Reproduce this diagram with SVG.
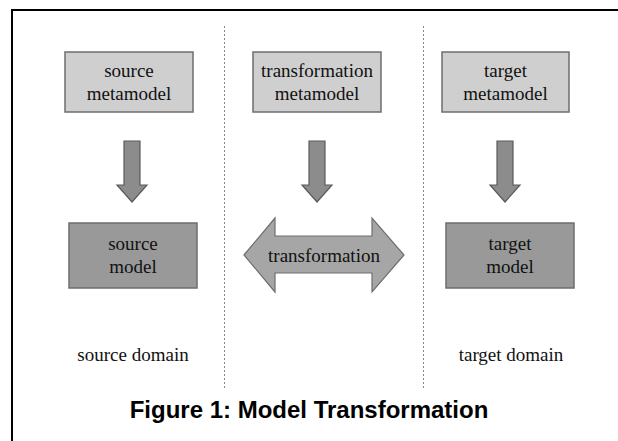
<svg xmlns="http://www.w3.org/2000/svg" width="618" height="441" viewBox="0 0 618 441">
<style>
.box1{fill:#cfcfcf;stroke:#6e6e6e;stroke-width:1.5}
.box2{fill:#999999;stroke:#6e6e6e;stroke-width:1.5}
.arr{fill:#8c8c8c;stroke:#5a5a5a;stroke-width:1.2}
.dbl{fill:#a6a6a6;stroke:#6e6e6e;stroke-width:1.2}
.t{font-size:19px;fill:#111;text-anchor:middle}
.cap{font-size:24px;font-weight:bold;fill:#000;text-anchor:middle}
.sep{stroke:#888;stroke-width:1;stroke-dasharray:2,2}
</style>
<rect width="618" height="441" fill="#fff"/>
<path d="M12 441 V10 H618" fill="none" stroke="#000" stroke-width="2"/>
<g id="separators">
<line class="sep" x1="224.5" y1="26" x2="224.5" y2="388"/>
<line class="sep" x1="423.5" y1="26" x2="423.5" y2="388"/>
</g>
<g font-family="'Liberation Serif', 'Times New Roman', serif">
<g id="source-metamodel">
<rect class="box1" x="65" y="52" width="128" height="60"/>
<text class="t" x="129" y="77">source</text>
<text class="t" x="129" y="100">metamodel</text>
</g>
<g id="transformation-metamodel">
<rect class="box1" x="253" y="52" width="128" height="60"/>
<text class="t" x="317" y="77">transformation</text>
<text class="t" x="317" y="100">metamodel</text>
</g>
<g id="target-metamodel">
<rect class="box1" x="442" y="52" width="127" height="60"/>
<text class="t" x="505.5" y="77">target</text>
<text class="t" x="505.5" y="100">metamodel</text>
</g>
<g id="source-model">
<rect class="box2" x="69" y="223" width="128" height="65"/>
<text class="t" x="133" y="250">source</text>
<text class="t" x="133" y="273">model</text>
</g>
<g id="target-model">
<rect class="box2" x="446" y="223" width="128" height="65"/>
<text class="t" x="510" y="250">target</text>
<text class="t" x="510" y="273">model</text>
</g>
<g id="transformation">
<path class="dbl" d="M244 255 L275 218 L275 236 L372 236 L372 218 L404 255 L372 292 L372 273 L275 273 L275 292 Z"/>
<text class="t" x="324" y="262" font-size="18.3">transformation</text>
</g>
<g id="connectors">
<path class="arr" d="M124 141 H140 V185 H147 L132 202 L117 185 H124 Z"/>
<path class="arr" d="M309 141 H325 V185 H332 L317 202 L302 185 H309 Z"/>
<path class="arr" d="M497 141 H513 V185 H520 L505 202 L490 185 H497 Z"/>
</g>
<g id="labels">
<text class="t" x="133" y="361">source domain</text>
<text class="t" x="511" y="361">target domain</text>
</g>
</g>
<text class="cap" x="309" y="418" font-family="'Liberation Sans', Arial, sans-serif">Figure 1: Model Transformation</text>
</svg>
